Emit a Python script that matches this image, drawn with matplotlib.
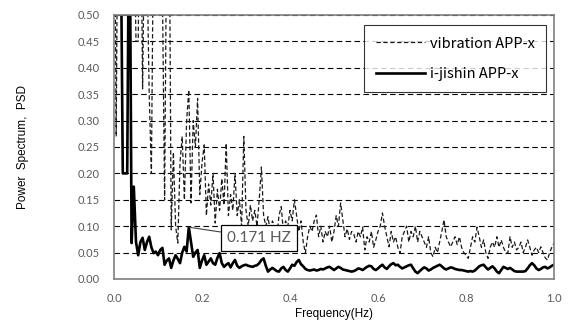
import numpy as np
import matplotlib
matplotlib.use('Agg')
import matplotlib.pyplot as plt

# frequency axis (Hz), step 0.005
freq = np.round(np.arange(0, 201) * 0.005, 3)

# vibration APP-x (dashed)
vibration = [
    0.9, 0.27, 0.9, 0.8, 0.7, 0.9, 0.7, 0.8, 0.6, 0.7,
    0.45, 0.45, 0.8, 0.36, 0.7, 0.6, 0.35, 0.20, 0.7, 0.9,
    0.6, 0.8, 0.55, 0.15, 0.7, 0.8, 0.093, 0.24, 0.10, 0.068,
    0.22, 0.27, 0.15, 0.30, 0.358, 0.144, 0.30, 0.25, 0.342, 0.16,
    0.22, 0.254, 0.12, 0.18, 0.14, 0.20, 0.106, 0.17, 0.13, 0.19,
    0.14, 0.257, 0.12, 0.16, 0.13, 0.20, 0.12, 0.15, 0.10, 0.27,
    0.13, 0.10, 0.14, 0.11, 0.13, 0.10, 0.15, 0.212, 0.12, 0.10,
    0.118, 0.09, 0.11, 0.10, 0.08, 0.12, 0.137, 0.09, 0.11, 0.10,
    0.13, 0.11, 0.15, 0.12, 0.09, 0.11, 0.07, 0.049, 0.08, 0.10,
    0.09, 0.11, 0.121, 0.08, 0.10, 0.07, 0.09, 0.08, 0.10, 0.07,
    0.09, 0.12, 0.10, 0.144, 0.112, 0.08, 0.095, 0.075, 0.09, 0.085,
    0.07, 0.09, 0.08, 0.098, 0.055, 0.08, 0.07, 0.09, 0.06, 0.074,
    0.09, 0.10, 0.125, 0.10, 0.08, 0.061, 0.09, 0.07, 0.08, 0.06,
    0.049, 0.08, 0.09, 0.10, 0.07, 0.09, 0.08, 0.10, 0.07, 0.09,
    0.08, 0.07, 0.06, 0.08, 0.05, 0.042, 0.06, 0.05, 0.07, 0.09,
    0.112, 0.08, 0.07, 0.061, 0.07, 0.08, 0.065, 0.08, 0.06, 0.05,
    0.045, 0.039, 0.06, 0.08, 0.07, 0.098, 0.08, 0.06, 0.074, 0.05,
    0.039, 0.06, 0.07, 0.06, 0.08, 0.06, 0.074, 0.06, 0.05, 0.049,
    0.08, 0.06, 0.07, 0.055, 0.06, 0.07, 0.05, 0.06, 0.074, 0.06,
    0.045, 0.055, 0.06, 0.05, 0.061, 0.05, 0.04, 0.036, 0.05, 0.06,
    0.068,
]

# i-jishin APP-x (solid)
ijishin = [
    0.9, 0.9, 0.8, 0.7, 0.20, 0.20, 0.20, 0.8, 0.068, 0.175,
    0.07, 0.045, 0.07, 0.078, 0.055, 0.07, 0.080, 0.06, 0.049, 0.052,
    0.045, 0.055, 0.059, 0.027, 0.035, 0.039, 0.021, 0.035, 0.045, 0.038,
    0.030, 0.050, 0.061, 0.052, 0.098, 0.07, 0.042, 0.050, 0.055, 0.021,
    0.035, 0.045, 0.027, 0.033, 0.039, 0.030, 0.027, 0.040, 0.049, 0.030,
    0.023, 0.027, 0.030, 0.022, 0.030, 0.036, 0.025, 0.021, 0.024, 0.026,
    0.027, 0.025, 0.024, 0.023, 0.025, 0.026, 0.030, 0.036, 0.039, 0.025,
    0.014, 0.018, 0.021, 0.018, 0.015, 0.014, 0.020, 0.023, 0.017, 0.014,
    0.020, 0.027, 0.025, 0.032, 0.036, 0.028, 0.024, 0.019, 0.017, 0.016,
    0.017, 0.018, 0.016, 0.017, 0.019, 0.018, 0.020, 0.022, 0.023, 0.020,
    0.017, 0.020, 0.023, 0.021, 0.018, 0.017, 0.016, 0.015, 0.014, 0.015,
    0.017, 0.020, 0.019, 0.017, 0.020, 0.023, 0.025, 0.024, 0.019, 0.017,
    0.020, 0.024, 0.027, 0.022, 0.019, 0.024, 0.028, 0.030, 0.026, 0.027,
    0.023, 0.020, 0.022, 0.024, 0.026, 0.027, 0.020, 0.014, 0.011, 0.015,
    0.019, 0.022, 0.020, 0.016, 0.018, 0.021, 0.023, 0.025, 0.027, 0.024,
    0.020, 0.018, 0.020, 0.022, 0.021, 0.019, 0.018, 0.017, 0.017, 0.016,
    0.015, 0.014, 0.015, 0.014, 0.016, 0.020, 0.024, 0.026, 0.027, 0.022,
    0.018, 0.021, 0.024, 0.020, 0.014, 0.011, 0.017, 0.023, 0.021, 0.019,
    0.021, 0.018, 0.015, 0.014, 0.014, 0.014, 0.014, 0.015, 0.020, 0.026,
    0.030, 0.026, 0.020, 0.017, 0.019, 0.022, 0.023, 0.020, 0.022, 0.025,
    0.027,
]

peak_freq = 0.171
peak_value = 0.098
peak_label = '0.171 HZ'

yticks = np.arange(0, 0.501, 0.05)
xticks = np.arange(0, 1.01, 0.2)

fig = plt.figure(figsize=(5.68, 3.26), dpi=100)
ax = fig.add_axes([0.2007, 0.1442, 0.7747, 0.8098])

ax.plot(freq, vibration, color='#1a1a1a', linewidth=0.9,
        linestyle=(0, (3.5, 2)), label='vibration APP-x')
ax.plot(freq, ijishin, color='black', linewidth=1.9, label='i-jishin APP-x')

ax.set_xlim(0, 1.0)
ax.set_ylim(0, 0.5)
ax.set_yticks(yticks)
ax.set_xticks(xticks)
ax.set_yticklabels([f'{v:.2f}' for v in yticks])
ax.set_xticklabels([f'{v:.1f}' for v in xticks])
ax.tick_params(length=0, labelsize=8, labelcolor='#595959', pad=10)
for lab in ax.get_xticklabels() + ax.get_yticklabels():
    lab.set_family('Lato')

ax.yaxis.grid(True, color='black', linewidth=0.8, linestyle=(0, (5, 3)))
ax.set_axisbelow(True)
for sp in ax.spines.values():
    sp.set_color('#7f7f7f')
    sp.set_linewidth(1.2)

ax.set_xlabel('Frequency(Hz)', fontsize=8.5, family='Liberation Sans', labelpad=3)
ax.set_ylabel('Power  Spectrum,  PSD', fontsize=8.5, family='Liberation Sans', labelpad=35)

ax.annotate(peak_label, xy=(peak_freq, peak_value), xytext=(0.33, 0.078),
            ha='center', va='center', fontsize=11, family='Lato', color='#595959',
            bbox=dict(boxstyle='square,pad=0.4', fc='white', ec='black', lw=0.9),
            arrowprops=dict(arrowstyle='-', color='#404040', lw=0.8, shrinkA=0, shrinkB=0))

leg = ax.legend(loc='upper right', bbox_to_anchor=(0.999, 0.99), frameon=True,
                fancybox=False, edgecolor='black', handlelength=3.4,
                handletextpad=0.3, borderpad=0.8, labelspacing=1.1,
                prop={'family': 'Noto Sans CJK JP', 'size': 10.5})
leg.get_frame().set_linewidth(0.8)

fig.savefig('out.png', dpi=100)
